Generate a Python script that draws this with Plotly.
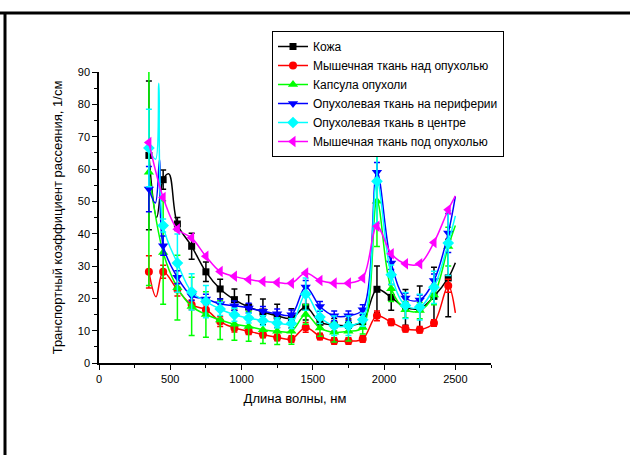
import plotly.graph_objects as go

# ---------------- data ----------------
wavelength = [350, 450, 550, 650, 750, 850, 950, 1050, 1150, 1250, 1350,
              1450, 1550, 1650, 1750, 1850, 1950, 2050, 2150, 2250, 2350, 2450]

skin = [64.2, 56.7, 43.0, 36.1, 28.2, 22.9, 19.6, 17.3, 15.8, 14.6, 13.8,
        17.3, 12.6, 11.8, 11.6, 12.8, 22.8, 20.3, 17.2, 16.8, 20.6, 26.3]
skin_err = [23, 3, 2, 4, 3, 3, 3.3, 3.8, 4, 3.6, 3,
            4, 2, 2, 2, 2, 7.2, 4, 5.5, 7, 9, 12]

muscle_above = [28.2, 28.2, 22.7, 18.0, 16.5, 12.8, 10.8, 9.8, 8.8, 7.9, 7.4,
                11.0, 8.2, 6.8, 6.8, 7.4, 14.6, 12.6, 10.6, 10.3, 12.4, 23.9]
muscle_above_err = [5, 2, 2, 1.5, 1.5, 1.5, 1.2, 1, 1, 1, 1,
                    1.5, 1, 1, 1, 1, 1.5, 1, 1, 1, 1, 2]

capsule = [59.0, 34.2, 23.3, 17.5, 15.0, 13.3, 12.0, 11.3, 10.3, 9.8, 9.8,
           15.0, 10.8, 9.5, 9.8, 11.0, 50.0, 23.0, 16.5, 16.2, 21.0, 36.0]
capsule_err = [35, 16, 10, 9, 7, 6, 5, 4.6, 4.3, 4.1, 4,
               3, 2.5, 3, 3, 2, 14, 4, 2.5, 2.5, 3, 6]

periphery = [53.8, 36.3, 26.5, 20.8, 19.8, 18.3, 17.7, 17.0, 16.0, 15.2, 14.9,
             23.5, 17.5, 14.6, 14.6, 16.5, 59.0, 30.9, 20.1, 19.5, 25.5, 40.2]
periphery_err = [7, 3, 2, 1.5, 1.5, 1.5, 1.5, 1.5, 1.5, 1.5, 1.5,
                 2, 1.5, 1.5, 1.5, 1.5, 3, 2, 1.5, 1.5, 2, 6]

center = [66.5, 42.5, 30.9, 22.0, 19.0, 16.7, 14.9, 13.9, 13.1, 12.4, 12.2,
          21.3, 14.2, 11.5, 11.5, 13.4, 56.2, 27.3, 17.8, 17.3, 23.4, 37.1]
center_err = [12, 2, 9, 5.6, 5, 2, 2, 1.5, 1.5, 1.5, 1.5,
              5, 2, 3, 3, 2, 13, 3, 4, 4, 5, 10]

muscle_below = [68.2, 51.2, 41.4, 38.7, 33.0, 28.3, 26.8, 25.8, 25.2, 24.9, 24.7,
                27.8, 25.5, 24.7, 24.7, 26.3, 42.3, 33.8, 30.7, 30.7, 37.3, 47.4]

# extra (unmarked) curve points of the smoothed lines
skin_curve_x = [405, 490, 2500]
skin_curve_y = [45, 58.5, 31]
muscle_above_curve_x = [400, 2500]
muscle_above_curve_y = [20.5, 15.5]
capsule_curve_x = [2500]
capsule_curve_y = [42.5]
periphery_curve_x = [395, 425, 2500]
periphery_curve_y = [49.5, 63, 51.5]
center_curve_x = [397, 420, 2500]
center_curve_y = [63, 86.5, 45.5]
muscle_below_curve_x = [2500]
muscle_below_curve_y = [51.7]

names = ["Кожа", "Мышечная ткань над опухолью", "Капсула опухоли",
         "Опухолевая ткань на периферии", "Опухолевая ткань в центре",
         "Мышечная ткань под опухолью"]

series = [
    (skin, skin_err, skin_curve_x, skin_curve_y),
    (muscle_above, muscle_above_err, muscle_above_curve_x, muscle_above_curve_y),
    (capsule, capsule_err, capsule_curve_x, capsule_curve_y),
    (periphery, periphery_err, periphery_curve_x, periphery_curve_y),
    (center, center_err, center_curve_x, center_curve_y),
    (muscle_below, None, muscle_below_curve_x, muscle_below_curve_y),
]

colors = ["#000000", "#FF0000", "#00FF00", "#0000FF", "#00FFFF", "#FF00FF"]
symbols = ["square", "circle", "triangle-up", "triangle-down", "diamond", "triangle-left"]
sizes = [7, 8, 9, 9, 9, 10]

FONT = "Liberation Sans, Arial, sans-serif"

fig = go.Figure()

for i, (vals, err, cx, cy) in enumerate(series):
    pts = sorted(list(zip(wavelength, vals)) + list(zip(cx, cy)))
    lx = [p[0] for p in pts]
    ly = [p[1] for p in pts]
    fig.add_trace(go.Scatter(
        x=lx, y=ly, mode="lines",
        line=dict(color=colors[i], width=1.5, shape="spline", smoothing=1),
        showlegend=False, legendgroup=names[i], hoverinfo="skip"))
    fig.add_trace(go.Scatter(
        x=wavelength, y=vals, mode="markers",
        marker=dict(symbol=symbols[i], size=sizes[i], color=colors[i], line=dict(width=0)),
        error_y=(dict(type="data", array=err, visible=True, color=colors[i],
                      thickness=1.5, width=3) if err is not None else None),
        showlegend=False, legendgroup=names[i]))
    fig.add_trace(go.Scatter(
        x=[None], y=[None], mode="lines+markers", name=names[i],
        line=dict(color=colors[i], width=1.5),
        marker=dict(symbol=symbols[i], size=sizes[i], color=colors[i]),
        legendgroup=names[i]))

# plot area: left 99, right 491, top 72, bottom 363
L, R, T, B = 99, 139, 72, 92
W, H = 630, 455
pw, ph = W - L - R, H - T - B

def px(xp):
    return (xp - L) / pw

def py(yp):
    return (H - B - yp) / ph

fig.update_layout(
    width=W, height=H,
    margin=dict(l=L, r=R, t=T, b=B),
    paper_bgcolor="white", plot_bgcolor="white",
    font=dict(family=FONT, size=11, color="black"),
    showlegend=True,
    legend=dict(x=px(272), y=py(31), xanchor="left", yanchor="top",
                bgcolor="white", bordercolor="black", borderwidth=1,
                font=dict(family=FONT, size=12, color="black"),
                tracegroupgap=0, itemwidth=30),
    xaxis=dict(range=[0, 2750], tickmode="linear", tick0=0, dtick=500,
               ticks="outside", ticklen=5, tickwidth=1, tickcolor="black",
               minor=dict(dtick=250, ticks="outside", ticklen=3, tickcolor="black"),
               showline=True, linecolor="black", linewidth=1.5,
               showgrid=False, zeroline=False,
               tickfont=dict(family=FONT, size=11),
               title=dict(text="Длина волны, нм", font=dict(family=FONT, size=13), standoff=10)),
    yaxis=dict(range=[0, 90], tickmode="linear", tick0=0, dtick=10,
               ticks="outside", ticklen=5, tickwidth=1, tickcolor="black",
               minor=dict(dtick=5, ticks="outside", ticklen=3, tickcolor="black"),
               showline=True, linecolor="black", linewidth=1.5,
               showgrid=False, zeroline=False,
               tickfont=dict(family=FONT, size=11),
               title=dict(text="Транспортный коэффициент рассеяния, 1/см",
                          font=dict(family=FONT, size=13), standoff=12)),
    shapes=[
        dict(type="line", xref="paper", yref="paper",
             x0=px(0), x1=px(630), y0=py(13), y1=py(13),
             line=dict(color="black", width=3)),
        dict(type="line", xref="paper", yref="paper",
             x0=px(5), x1=px(5), y0=py(13), y1=py(456),
             line=dict(color="black", width=3)),
    ],
)

fig.write_html("out.html")
